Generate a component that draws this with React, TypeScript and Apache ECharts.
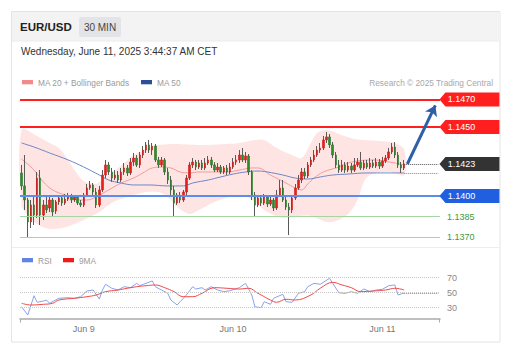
import React, { useEffect, useRef } from "react";
import * as echarts from "echarts";

const FONT = "'Liberation Sans', Arial, Helvetica, sans-serif";

// ---- time axis: 30-minute slots starting Jun 8 14:00 ----
const START_DAY = 8;
const START_MIN = 14 * 60;
const SLOT_COUNT = 135;
const CATEGORIES: string[] = Array.from({ length: SLOT_COUNT }, (_, i) => {
  const t = START_MIN + i * 30;
  const day = START_DAY + Math.floor(t / 1440);
  const m = t % 1440;
  return `Jun ${day} ${String(Math.floor(m / 60)).padStart(2, "0")}:${String(m % 60).padStart(2, "0")}`;
});

// ---- EUR/USD 30 min candles: [open, close, low, high] ----
const CANDLES: number[][] = [
  [1.14167, 1.14073, 1.14044, 1.14225],
  [1.14073, 1.13971, 1.13899, 1.14297],
  [1.13971, 1.13812, 1.13696, 1.13986],
  [1.13812, 1.13935, 1.13768, 1.13971],
  [1.13935, 1.13862, 1.1379, 1.14007],
  [1.13862, 1.1413, 1.13841, 1.14174],
  [1.1413, 1.13862, 1.1379, 1.14188],
  [1.13862, 1.13935, 1.13826, 1.13971],
  [1.13935, 1.13899, 1.13877, 1.14007],
  [1.13913, 1.13971, 1.13884, 1.14],
  [1.13971, 1.13884, 1.13855, 1.13986],
  [1.13891, 1.13957, 1.1387, 1.13971],
  [1.13957, 1.13986, 1.13935, 1.14007],
  [1.13986, 1.13949, 1.13928, 1.14],
  [1.13949, 1.13978, 1.13935, 1.14015],
  [1.13978, 1.13993, 1.13964, 1.14022],
  [1.13993, 1.13971, 1.13949, 1.14015],
  [1.13971, 1.13993, 1.13957, 1.14007],
  [1.13993, 1.13949, 1.13935, 1.14007],
  [1.13949, 1.13935, 1.1392, 1.13971],
  [1.13935, 1.14007, 1.1392, 1.14022],
  [1.14007, 1.14058, 1.13993, 1.14087],
  [1.14058, 1.1408, 1.14044, 1.14109],
  [1.1408, 1.14029, 1.14, 1.14094],
  [1.14029, 1.13935, 1.13913, 1.14058],
  [1.13935, 1.14044, 1.1392, 1.14073],
  [1.14044, 1.14152, 1.14029, 1.14188],
  [1.14152, 1.14225, 1.1413, 1.14261],
  [1.14225, 1.14174, 1.14152, 1.14246],
  [1.14174, 1.1413, 1.14102, 1.14203],
  [1.1413, 1.14152, 1.14116, 1.14188],
  [1.14152, 1.14116, 1.14094, 1.14181],
  [1.14116, 1.14174, 1.14102, 1.14203],
  [1.14174, 1.14203, 1.14152, 1.14239],
  [1.14203, 1.14167, 1.14145, 1.14225],
  [1.14167, 1.14246, 1.14152, 1.14275],
  [1.14246, 1.14275, 1.14217, 1.14312],
  [1.14275, 1.14225, 1.1421, 1.14297],
  [1.14225, 1.14297, 1.14203, 1.14319],
  [1.14297, 1.14333, 1.14275, 1.14362],
  [1.14333, 1.1437, 1.14312, 1.14391],
  [1.1437, 1.14333, 1.14312, 1.14406],
  [1.14333, 1.14362, 1.14297, 1.14384],
  [1.14362, 1.14261, 1.14246, 1.14377],
  [1.14261, 1.14225, 1.14203, 1.14283],
  [1.14225, 1.14261, 1.1421, 1.14283],
  [1.14261, 1.14174, 1.14152, 1.14275],
  [1.14174, 1.14116, 1.14087, 1.14203],
  [1.14116, 1.14044, 1.14007, 1.14145],
  [1.14044, 1.13949, 1.13848, 1.14073],
  [1.13949, 1.14007, 1.13935, 1.14022],
  [1.14007, 1.13971, 1.13949, 1.14029],
  [1.13971, 1.14029, 1.13957, 1.14044],
  [1.14029, 1.1413, 1.14007, 1.14152],
  [1.1413, 1.14225, 1.14116, 1.14246],
  [1.14225, 1.14246, 1.14203, 1.14275],
  [1.14246, 1.1421, 1.14188, 1.14261],
  [1.1421, 1.14239, 1.14196, 1.14261],
  [1.14239, 1.14203, 1.14188, 1.14261],
  [1.14203, 1.14239, 1.14188, 1.14275],
  [1.14239, 1.14261, 1.14225, 1.1429],
  [1.14261, 1.14225, 1.14203, 1.14283],
  [1.14225, 1.14188, 1.14174, 1.14246],
  [1.14188, 1.1421, 1.14174, 1.14239],
  [1.1421, 1.14174, 1.14159, 1.14225],
  [1.14174, 1.14203, 1.14159, 1.14217],
  [1.14203, 1.14174, 1.14152, 1.14225],
  [1.14174, 1.1421, 1.14159, 1.14239],
  [1.1421, 1.14246, 1.14196, 1.14275],
  [1.14246, 1.14261, 1.14225, 1.14297],
  [1.14261, 1.14297, 1.14239, 1.14333],
  [1.14297, 1.14261, 1.14246, 1.14348],
  [1.14261, 1.1429, 1.14239, 1.14319],
  [1.1429, 1.14174, 1.14152, 1.14304],
  [1.14174, 1.14007, 1.13971, 1.14188],
  [1.14007, 1.13935, 1.13848, 1.14029],
  [1.13935, 1.13986, 1.1392, 1.14007],
  [1.13986, 1.13949, 1.13928, 1.14007],
  [1.13949, 1.13993, 1.13935, 1.14015],
  [1.13993, 1.13942, 1.1392, 1.14007],
  [1.13942, 1.13971, 1.13928, 1.13993],
  [1.13971, 1.13913, 1.13891, 1.13986],
  [1.13913, 1.14007, 1.13899, 1.14044],
  [1.14007, 1.14058, 1.13993, 1.14116],
  [1.14058, 1.13971, 1.13957, 1.14116],
  [1.13971, 1.1392, 1.13899, 1.13993],
  [1.1392, 1.13899, 1.13717, 1.13949],
  [1.13899, 1.13986, 1.13877, 1.14007],
  [1.13986, 1.14058, 1.13971, 1.14087],
  [1.14058, 1.14116, 1.14044, 1.14152],
  [1.14116, 1.14174, 1.14094, 1.14203],
  [1.14174, 1.14145, 1.14123, 1.14203],
  [1.14145, 1.14225, 1.1413, 1.14246],
  [1.14225, 1.14261, 1.1421, 1.14283],
  [1.14261, 1.14297, 1.14246, 1.14333],
  [1.14297, 1.14333, 1.14283, 1.14362],
  [1.14333, 1.14348, 1.14312, 1.14384],
  [1.14348, 1.14406, 1.14333, 1.14435],
  [1.14406, 1.14428, 1.14384, 1.14464],
  [1.14428, 1.1437, 1.14348, 1.14449],
  [1.1437, 1.14297, 1.14275, 1.14391],
  [1.14297, 1.14225, 1.14203, 1.14319],
  [1.14225, 1.14188, 1.14167, 1.14261],
  [1.14188, 1.14225, 1.14174, 1.14261],
  [1.14225, 1.14188, 1.14167, 1.14246],
  [1.14188, 1.14217, 1.14174, 1.14246],
  [1.14217, 1.14188, 1.14167, 1.14239],
  [1.14188, 1.14225, 1.14174, 1.14275],
  [1.14225, 1.14246, 1.1421, 1.14275],
  [1.14246, 1.14203, 1.14188, 1.14319],
  [1.14203, 1.14239, 1.14188, 1.14261],
  [1.14239, 1.1421, 1.14196, 1.14261],
  [1.1421, 1.14239, 1.14196, 1.14275],
  [1.14239, 1.14217, 1.14203, 1.14261],
  [1.14217, 1.14246, 1.14203, 1.14275],
  [1.14246, 1.14217, 1.14196, 1.14268],
  [1.14217, 1.14254, 1.14203, 1.14283],
  [1.14254, 1.14275, 1.14239, 1.14297],
  [1.14275, 1.14319, 1.14261, 1.14348],
  [1.14319, 1.14355, 1.14304, 1.14384],
  [1.14355, 1.14297, 1.14275, 1.14391],
  [1.14297, 1.14225, 1.14203, 1.14319],
  [1.14225, 1.14203, 1.14167, 1.14246],
  [1.14203, 1.14232, 1.14188, 1.14261],
];

// ---- indicators (slot index, value) ----
const MA20_IDX = [0, 4, 7, 10, 14, 19, 21, 25, 28, 32, 36, 39, 42, 45, 48, 51, 54, 57, 61, 66, 70, 74, 76, 80, 85, 88, 90, 92, 94, 97, 102, 106, 113, 120, 123];
const MA20 = [1.14268, 1.14188, 1.14102, 1.14044, 1.14007, 1.13971, 1.13971, 1.14007, 1.14044, 1.14094, 1.1413, 1.14167, 1.14203, 1.1421, 1.14203, 1.14174, 1.14167, 1.14174, 1.14174, 1.14174, 1.14188, 1.14203, 1.14203, 1.14152, 1.14094, 1.14058, 1.14044, 1.14087, 1.1413, 1.14174, 1.1421, 1.14246, 1.14261, 1.14239, 1.14225];

const MA50_IDX = [0, 4, 9, 15, 20, 25, 28, 32, 36, 41, 47, 52, 55, 60, 64, 68, 72, 76, 79, 84, 88, 92, 96, 100, 105, 111, 117, 123];
const MA50 = [1.14384, 1.14355, 1.14312, 1.14261, 1.1421, 1.14152, 1.14116, 1.14094, 1.1408, 1.1408, 1.14073, 1.14073, 1.14094, 1.14116, 1.14138, 1.14159, 1.14174, 1.14181, 1.14174, 1.14152, 1.1413, 1.14123, 1.14138, 1.14152, 1.14159, 1.14167, 1.14167, 1.14167];

const BB_UPPER_IDX = [0, 5, 9, 12, 15, 17, 20, 24, 25, 29, 33, 36, 41, 44, 50, 57, 66, 70, 75, 78, 82, 87, 90, 93, 95, 98, 102, 107, 115, 120, 123];
const BB_UPPER = [1.14478, 1.14435, 1.14384, 1.14348, 1.14261, 1.14188, 1.14109, 1.14087, 1.14102, 1.14167, 1.14239, 1.14297, 1.14348, 1.1437, 1.14377, 1.1437, 1.14377, 1.14384, 1.14406, 1.14406, 1.14348, 1.14297, 1.14275, 1.14384, 1.14457, 1.14478, 1.14449, 1.14413, 1.14399, 1.14384, 1.14333];

const BB_LOWER_IDX = [0, 2, 5, 9, 13, 17, 20, 25, 28, 31, 35, 40, 44, 47, 50, 54, 57, 62, 67, 72, 75, 79, 84, 89, 93, 98, 101, 105, 108, 110, 112, 116, 120, 123];
const BB_LOWER = [1.13935, 1.13862, 1.13797, 1.13761, 1.13768, 1.13797, 1.13826, 1.13884, 1.13935, 1.13971, 1.14, 1.14029, 1.14029, 1.13993, 1.1392, 1.1387, 1.13899, 1.13957, 1.13993, 1.14, 1.13957, 1.13884, 1.13841, 1.13855, 1.13855, 1.13812, 1.13819, 1.1387, 1.13971, 1.14102, 1.14152, 1.14174, 1.14167, 1.14152];

const RSI_IDX = [0, 2, 4, 5, 7, 8, 9, 12, 15, 17, 19, 21, 23, 25, 26, 27, 29, 31, 33, 35, 37, 38, 40, 42, 43, 45, 47, 48, 50, 51, 53, 55, 56, 58, 59, 61, 63, 65, 67, 70, 72, 74, 75, 77, 78, 80, 81, 84, 85, 87, 89, 91, 92, 94, 96, 99, 100, 102, 104, 106, 108, 110, 112, 114, 116, 118, 120, 121, 123];
const RSI = [31.3, 20.3, 45.9, 37.2, 38.9, 40.2, 35.9, 42.5, 43.3, 42.5, 44.6, 52.2, 53.5, 41.6, 53.5, 61.1, 55.8, 53.5, 57.9, 56.6, 62.4, 59.2, 62.4, 65.5, 57.9, 53.5, 49.1, 40.2, 33.6, 38.0, 46.9, 57.9, 54.8, 56.6, 53.5, 57.9, 53.5, 51.3, 52.6, 56.6, 62.4, 46.9, 31.3, 30.0, 38.0, 34.5, 42.5, 47.8, 38.0, 37.2, 49.1, 51.3, 57.9, 62.4, 61.1, 69.1, 62.4, 49.9, 49.1, 51.3, 49.1, 54.8, 51.3, 53.5, 54.5, 59.2, 60.2, 46.9, 49.5];

const RSI_MA9_IDX = [0, 3, 7, 10, 12, 17, 21, 24, 27, 31, 34, 37, 40, 43, 46, 49, 52, 55, 58, 62, 66, 70, 73, 76, 77, 80, 82, 85, 88, 93, 96, 100, 103, 106, 109, 113, 117, 120, 123];
const RSI_MA9 = [35.9, 33.6, 34.5, 35.9, 40.2, 42.5, 44.6, 46.9, 51.3, 53.5, 55.8, 57.9, 59.2, 60.2, 56.6, 51.3, 44.6, 44.6, 49.1, 56.6, 55.8, 54.8, 55.8, 49.1, 46.9, 40.2, 37.2, 41.2, 40.2, 46.9, 55.8, 63.7, 60.2, 56.6, 51.3, 52.2, 53.5, 55.8, 53.5];

// ---- key levels ----
const RESISTANCE = [1.147, 1.145];
const PIVOT = [1.14];
const SUPPORT = [1.1385, 1.137];
const LAST_PRICE = 1.14232;
const LAST_MA50 = 1.14167;
const LAST_RSI = 49.5;
const ARROW_TO = 1.14656;
const RSI_LEVELS = [70, 50, 30];

const TAG = "path://M0,7L6,0L60,0L60,14L6,14Z";

const pairs = (idx: number[], vals: number[]) => idx.map((x, i) => [x, vals[i]]);

export default function App() {
  const ref = useRef<HTMLDivElement>(null);

  useEffect(() => {
    const el = ref.current;
    if (!el) return;
    const chart = echarts.init(el, undefined, { renderer: "svg", width: 515, height: 356 });
    const lastIdx = CANDLES.length - 1;
    const endIdx = SLOT_COUNT - 1;

    const tag = (value: number, color: string) => ({
      coord: [endIdx, value],
      symbol: TAG,
      symbolSize: [60, 14],
      symbolKeepAspect: false,
      symbolOffset: [31, 0],
      itemStyle: { color },
      label: {
        show: true,
        formatter: value.toFixed(4),
        color: "#fff",
        fontSize: 9,
        fontFamily: FONT,
        offset: [-8, 0],
      },
    });

    const text = (x: number, y: number, t: string, size: number, fill: string, extra: any = {}) => ({
      type: "text",
      x,
      y,
      silent: true,
      style: { text: t, fontSize: size, fontFamily: FONT, fill, verticalAlign: "middle", ...extra },
    });

    const option: any = {
      animation: false,
      textStyle: { fontFamily: FONT },
      graphic: [
        { type: "rect", silent: true, z: -10, shape: { x: 11.5, y: 11.5, width: 488.5, height: 330.5 }, style: { fill: "#fff", stroke: "#e4e4e4", lineWidth: 1 } },
        { type: "rect", silent: true, z: -9, shape: { x: 12, y: 12, width: 487.5, height: 29 }, style: { fill: "#f3f3f3" } },
        { type: "line", silent: true, z: -9, shape: { x1: 12, y1: 41, x2: 499.5, y2: 41 }, style: { stroke: "#ececec", lineWidth: 1 } },
        { type: "line", silent: true, z: -9, shape: { x1: 12, y1: 247.5, x2: 499.5, y2: 247.5 }, style: { stroke: "#eeeeee", lineWidth: 1 } },
        text(20, 26.5, "EUR/USD", 11.5, "#222", { fontWeight: "bold" }),
        { type: "rect", silent: true, shape: { x: 79, y: 17, width: 42, height: 20, r: 2 }, style: { fill: "#e2e4e7" } },
        text(100, 27, "30 MIN", 10, "#444", { align: "center" }),
        text(21, 51.5, "Wednesday, June 11, 2025 3:44:37 AM CET", 10, "#333"),
        { type: "rect", silent: true, shape: { x: 22, y: 80, width: 11, height: 4.3 }, style: { fill: "#f28a8a" } },
        text(38, 82.5, "MA 20 + Bollinger Bands", 8.3, "#9a9a9a"),
        { type: "rect", silent: true, shape: { x: 141, y: 80, width: 11, height: 4.3 }, style: { fill: "#2d4f98" } },
        text(157, 82.5, "MA 50", 8.3, "#9a9a9a"),
        text(493, 82.5, "Research \u00a9 2025 Trading Central", 8.3, "#a8a8a8", { align: "right" }),
        { type: "rect", silent: true, shape: { x: 22, y: 258, width: 11, height: 4.3 }, style: { fill: "#6285e4" } },
        text(38, 260.5, "RSI", 8.3, "#9a9a9a"),
        { type: "rect", silent: true, shape: { x: 63, y: 258, width: 11, height: 4.3 }, style: { fill: "#ee1b1b" } },
        text(79, 260.5, "9MA", 8.3, "#9a9a9a"),
        { type: "line", silent: true, shape: { x1: 20.5, y1: 319, x2: 20.5, y2: 322.5 }, style: { stroke: "#aaa", lineWidth: 1 } },
        { type: "line", silent: true, shape: { x1: 439.5, y1: 319, x2: 439.5, y2: 322.5 }, style: { stroke: "#aaa", lineWidth: 1 } },
      ],
      grid: [
        { left: 20, top: 90, width: 420, height: 155 },
        { left: 20, top: 255, width: 420, height: 64 },
      ],
      xAxis: [
        { type: "category", gridIndex: 0, data: CATEGORIES, boundaryGap: true, show: false },
        {
          type: "category",
          gridIndex: 1,
          data: CATEGORIES,
          boundaryGap: true,
          axisLine: { show: true, lineStyle: { color: "#aaa", width: 1.5 } },
          axisTick: { show: false },
          splitLine: { show: false },
          axisLabel: {
            interval: (_i: number, v: string) => v.endsWith(" 00:00"),
            formatter: (v: string) => v.split(" ").slice(0, 2).join(" "),
            color: "#777",
            fontSize: 9,
            fontFamily: FONT,
            margin: 5,
          },
        },
      ],
      yAxis: [
        { type: "value", gridIndex: 0, min: 1.13645, max: 1.14768, show: false, splitLine: { show: false } },
        { type: "value", gridIndex: 1, min: 15, max: 100, show: false, splitLine: { show: false } },
      ],
      series: [
        {
          type: "custom",
          name: "BB",
          xAxisIndex: 0,
          yAxisIndex: 0,
          silent: true,
          z: 1,
          data: [[0, BB_UPPER[0]]],
          renderItem: (params: any, api: any) => {
            if (params.dataIndex !== 0) return null;
            const up = BB_UPPER_IDX.map((x, i) => api.coord([x, BB_UPPER[i]]));
            const lo = BB_LOWER_IDX.map((x, i) => api.coord([x, BB_LOWER[i]])).reverse();
            return {
              type: "polygon",
              shape: { points: up.concat(lo), smooth: 0.35 },
              style: { fill: "rgba(255, 95, 95, 0.17)", stroke: "none" },
            };
          },
        },
        {
          type: "line",
          name: "MA 20",
          xAxisIndex: 0,
          yAxisIndex: 0,
          data: pairs(MA20_IDX, MA20),
          smooth: 0.4,
          symbol: "none",
          silent: true,
          z: 2,
          lineStyle: { color: "#f39a9a", width: 1 },
        },
        {
          type: "line",
          name: "MA 50",
          xAxisIndex: 0,
          yAxisIndex: 0,
          data: pairs(MA50_IDX, MA50),
          smooth: 0.4,
          symbol: "none",
          silent: true,
          z: 2,
          lineStyle: { color: "#6f86c4", width: 1 },
          markLine: {
            silent: true,
            precision: 5,
            symbol: ["none", "none"],
            animation: false,
            data: [
              ...RESISTANCE.map((v) => ({ yAxis: v, lineStyle: { color: "#ff1f1f", width: 2, type: "solid" }, label: { show: false } })),
              ...PIVOT.map((v) => ({ yAxis: v, lineStyle: { color: "#5b8def", width: 2, type: "solid" }, label: { show: false } })),
              ...SUPPORT.map((v) => ({
                yAxis: v,
                lineStyle: { color: "#a3d6a3", width: 1.2, type: "solid" },
                label: { show: true, position: "end", formatter: v.toFixed(4), color: "#3d9a3d", fontSize: 9, fontFamily: FONT, distance: 7 },
              })),
              [
                { coord: [lastIdx, LAST_MA50], lineStyle: { color: "#6f86c4", width: 1, type: "dotted" }, label: { show: false } },
                { coord: [endIdx, LAST_MA50] },
              ],
            ],
          },
        },
        {
          type: "candlestick",
          name: "wicks",
          xAxisIndex: 0,
          yAxisIndex: 0,
          data: CANDLES,
          barWidth: 1,
          silent: true,
          z: 3,
          itemStyle: { color: "#5a5a5a", color0: "#5a5a5a", borderColor: "#5a5a5a", borderColor0: "#5a5a5a", borderWidth: 1 },
        },
        {
          type: "candlestick",
          name: "EUR/USD",
          xAxisIndex: 0,
          yAxisIndex: 0,
          data: CANDLES.map(([o, c]) => [o, c, Math.min(o, c), Math.max(o, c)]),
          barWidth: 2,
          silent: true,
          z: 4,
          itemStyle: { color: "#e3201c", color0: "#2c8c2c", borderColor: "#d01a16", borderColor0: "#237a23", borderWidth: 0.6 },
          markLine: {
            silent: true,
            precision: 5,
            symbol: ["none", "none"],
            animation: false,
            data: [
              [
                { coord: [lastIdx, LAST_PRICE], lineStyle: { color: "#555", width: 1, type: "dotted" }, label: { show: false } },
                { coord: [endIdx, LAST_PRICE] },
              ],
              [
                { coord: [lastIdx + 1, LAST_PRICE], symbol: "none", lineStyle: { color: "#2f5fa8", width: 3, type: "solid" }, label: { show: false } },
                { coord: [endIdx - 1, ARROW_TO], symbol: "arrow", symbolSize: 10 },
              ],
            ],
          },
          markPoint: {
            silent: true,
            animation: false,
            data: [
              ...RESISTANCE.map((v) => tag(v, "#ff1f1f")),
              tag(LAST_PRICE, "#333333"),
              ...PIVOT.map((v) => tag(v, "#1f5fe0")),
            ],
          },
        },
        {
          type: "line",
          name: "RSI",
          xAxisIndex: 1,
          yAxisIndex: 1,
          data: pairs(RSI_IDX, RSI),
          symbol: "none",
          silent: true,
          z: 3,
          lineStyle: { color: "#8aa2ec", width: 1 },
          markLine: {
            silent: true,
            precision: 2,
            symbol: ["none", "none"],
            animation: false,
            data: [
              ...RSI_LEVELS.map((v) => ({
                yAxis: v,
                lineStyle: { color: "#c6c6c6", width: 1, type: "dotted" },
                label: { show: true, position: "end", formatter: String(v), color: "#888", fontSize: 9, fontFamily: FONT, distance: 7 },
              })),
              [
                { coord: [lastIdx, LAST_RSI], lineStyle: { color: "#6b8de3", width: 1, type: "dotted" }, label: { show: false } },
                { coord: [endIdx, LAST_RSI] },
              ],
            ],
          },
        },
        {
          type: "line",
          name: "9MA",
          xAxisIndex: 1,
          yAxisIndex: 1,
          data: pairs(RSI_MA9_IDX, RSI_MA9),
          smooth: 0.4,
          symbol: "none",
          silent: true,
          z: 4,
          lineStyle: { color: "#f04848", width: 1 },
        },
      ],
    };

    chart.setOption(option);
    return () => chart.dispose();
  }, []);

  return (
    <div
      ref={ref}
      style={{ position: "fixed", left: 0, top: 0, width: 515, height: 356, background: "#fff" }}
    />
  );
}
